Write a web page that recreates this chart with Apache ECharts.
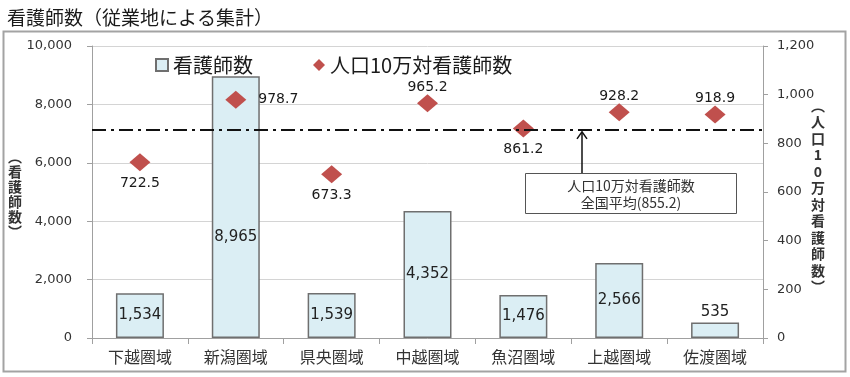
<!DOCTYPE html>
<html>
<head>
<meta charset="utf-8">
<script src="https://cdn.jsdelivr.net/npm/echarts@6/dist/echarts.min.js"></script>
<style>
html, body { margin: 0; padding: 0; background: #fff; }
#main { width: 850px; height: 377px; }
</style>
</head>
<body>
<div id="main"></div>
<script>
// データ
var areas = ['下越圏域', '新潟圏域', '県央圏域', '中越圏域', '魚沼圏域', '上越圏域', '佐渡圏域'];
var nurses = [1534, 8965, 1539, 4352, 1476, 2566, 535];
var nursesPer100k = [722.5, 978.7, 673.3, 965.2, 861.2, 928.2, 918.9];
var nationalAvg = 855.2;
var leftTicks = [0, 2000, 4000, 6000, 8000, 10000];
var rightTicks = [0, 200, 400, 600, 800, 1000, 1200];

var titleText = '看護師数（従業地による集計）';
var leftName = '︵看護師数︶';
var rightName = '︵人口10万対看護師数︶';
var avgNote = ['人口10万対看護師数', '全国平均(' + nationalAvg + ')'];

// ラベル位置 (見た目の調整用)
var rateLabelPos = ['bottom', 'right', 'bottom', 'top', 'bottom', 'top', 'top'];
var rateLabelDist = { top: 0, bottom: 5, right: 12 };

function stackChars(s) {
	return s.split('').join('\n');
}

var dom = document.getElementById('main');
var myChart = echarts.init(dom);
var CJK = '"Noto Sans CJK JP", sans-serif';
var NUM = '"DejaVu Sans", sans-serif';

var barData = nurses.map(function (v, i) {
	var item = { value: v };
	if (i == 1) {
		item.label = { offset: [0, 30] };
	}
	if (v < 1000) {
		item.label = { position: 'top', distance: 3 };
	}
	return item;
});

var rateData = nursesPer100k.map(function (v, i) {
	return {
		value: v,
		label: { position: rateLabelPos[i], distance: rateLabelDist[rateLabelPos[i]] }
	};
});

var option = {
	animation: false,
	textStyle: { fontFamily: CJK },
	title: {
		text: titleText,
		left: 2,
		top: 3,
		textStyle: { fontFamily: CJK, fontSize: 19, fontWeight: 'normal', color: '#1a1a1a' }
	},
	legend: {
		left: 150,
		top: 50,
		itemWidth: 12,
		itemHeight: 12,
		itemGap: 60,
		textStyle: { fontFamily: CJK, fontSize: 20, color: '#1a1a1a' },
		data: [
			{ name: '看護師数', icon: 'rect' },
			{ name: '人口10万対看護師数', icon: 'diamond' }
		]
	},
	grid: {
		left: 92,
		right: 87,
		top: 46,
		bottom: 39
	},
	xAxis: {
		type: 'category',
		data: areas,
		axisLine: { lineStyle: { color: '#a0a0a0', width: 1 } },
		axisTick: { show: true, length: 6, lineStyle: { color: '#a0a0a0' } },
		axisLabel: { fontFamily: CJK, fontSize: 16, color: '#333', margin: 11 }
	},
	yAxis: [{
		type: 'value',
		min: leftTicks[0],
		max: leftTicks[leftTicks.length - 1],
		interval: leftTicks[1] - leftTicks[0],
		axisLine: { show: true, lineStyle: { color: '#a0a0a0' } },
		axisTick: { show: true, length: 5, lineStyle: { color: '#a0a0a0' } },
		axisLabel: {
			fontFamily: NUM, fontSize: 13, color: '#333', margin: 20,
			formatter: function (v) { return v.toLocaleString('en-US'); }
		},
		splitLine: { show: true, lineStyle: { color: '#d4d4d4', width: 1 } }
	}, {
		type: 'value',
		min: rightTicks[0],
		max: rightTicks[rightTicks.length - 1],
		interval: rightTicks[1] - rightTicks[0],
		axisLine: { show: true, lineStyle: { color: '#a0a0a0' } },
		axisTick: { show: true, length: 5, lineStyle: { color: '#a0a0a0' } },
		axisLabel: {
			fontFamily: NUM, fontSize: 13, color: '#333', margin: 14,
			formatter: function (v) { return v.toLocaleString('en-US'); }
		},
		splitLine: { show: false }
	}],
	series: [{
		name: '看護師数',
		type: 'bar',
		yAxisIndex: 0,
		barWidth: 48,
		data: barData,
		itemStyle: { color: '#dbeef4', borderColor: '#6f6f6f', borderWidth: 1.5 },
		label: {
			show: true,
			position: 'inside',
			fontFamily: NUM,
			fontSize: 15,
			color: '#222',
			formatter: function (p) { return p.value.toLocaleString('en-US'); }
		},
		z: 2
	}, {
		name: '人口10万対看護師数',
		type: 'scatter',
		yAxisIndex: 1,
		symbol: 'diamond',
		symbolSize: [21, 18],
		data: rateData,
		itemStyle: { color: '#c0504d', opacity: 1 },
		label: {
			show: true,
			fontFamily: NUM,
			fontSize: 14,
			color: '#1a1a1a',
			formatter: function (p) { return p.value.toFixed(1); }
		},
		markLine: {
			silent: true,
			symbol: 'none',
			label: { show: false },
			lineStyle: { color: '#111', width: 2, type: [14, 5, 3, 5] },
			data: [{ yAxis: nationalAvg }]
		},
		z: 3
	}]
};

myChart.setOption(option);

// 注記と枠
var avgY = myChart.convertToPixel({ yAxisIndex: 1 }, nationalAvg);
var arrowX = 582;
var boxTop = 173;
myChart.setOption({
	graphic: [{
		type: 'rect',
		shape: { x: 3.5, y: 31.5, width: 842, height: 340 },
		style: { fill: 'none', stroke: '#a3a3a3', lineWidth: 2 },
		silent: true
	}, {
		type: 'text',
		x: 15,
		y: 194,
		style: {
			text: stackChars(leftName),
			font: 'bold 14px "Noto Sans CJK JP"',
			fill: '#333',
			align: 'center',
			verticalAlign: 'middle',
			lineHeight: 15
		}
	}, {
		type: 'text',
		x: 818,
		y: 196,
		style: {
			text: stackChars(rightName),
			font: 'bold 14px "Noto Sans CJK JP"',
			fill: '#333',
			align: 'center',
			verticalAlign: 'middle',
			lineHeight: 16.5
		}
	}, {
		type: 'line',
		shape: { x1: arrowX, y1: boxTop, x2: arrowX, y2: avgY + 2 },
		style: { stroke: '#111', lineWidth: 1.5 }
	}, {
		type: 'polyline',
		shape: { points: [[arrowX - 5, avgY + 9], [arrowX, avgY + 2], [arrowX + 5, avgY + 9]] },
		style: { stroke: '#111', lineWidth: 1.5, fill: 'none' }
	}, {
		type: 'rect',
		shape: { x: 525.5, y: boxTop + 0.5, width: 211, height: 40 },
		style: { fill: '#fff', stroke: '#555', lineWidth: 1 }
	}, {
		type: 'text',
		x: 631,
		y: 194,
		style: {
			text: avgNote.join('\n'),
			font: '14px "Noto Sans CJK JP"',
			fill: '#333',
			align: 'center',
			verticalAlign: 'middle',
			lineHeight: 17
		}
	}]
});

window.addEventListener('resize', function () {
	myChart.resize();
});
</script>
</body>
</html>
